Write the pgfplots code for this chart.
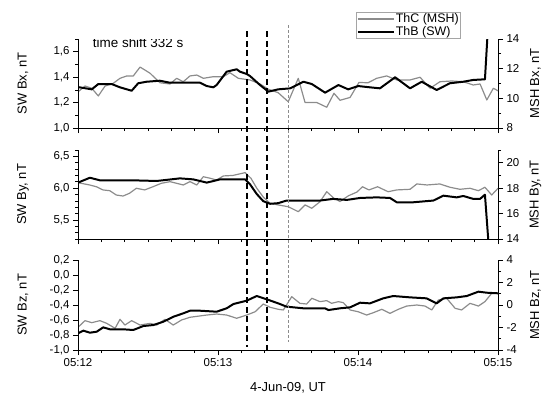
\documentclass[border=0pt]{standalone}
\usepackage{pgfplots}
\pgfplotsset{compat=1.18}
\usepackage{fontspec}
\setmainfont{Liberation Sans}

\definecolor{msh}{RGB}{140,140,140}
\definecolor{legframe}{RGB}{165,165,165}
\newcommand\ticksize{\fontsize{11.5}{13}\selectfont}
\newcommand\labsize{\fontsize{13}{15}\selectfont}
\newcommand\annsize{\fontsize{13.5}{15}\selectfont}
\newcommand\legsize{\fontsize{12.5}{13}\selectfont}

\pgfplotsset{
  panel/.style={
    scale only axis, width=420bp,
    xmin=0, xmax=180,
    xtick={0,60,120,180},
    minor xtick={10,20,30,40,50,70,80,90,100,110,130,140,150,160,170},
    tick align=outside,
    major tick length=5bp, minor tick length=3bp,
    every tick/.style={black, line width=0.7pt},
    axis line style={black, line width=0.8pt},
    tick label style={font=\ticksize},
    /pgf/number format/assume math mode=true,
    label style={font=\labsize},
  },
  leftpanel/.style={panel,
    axis y line*=left, axis x line*=bottom,
    yticklabel style={/pgf/number format/.cd, fixed, fixed zerofill, precision=1, use comma},
    ylabel style={at={(axis description cs:-0.131,0.5)}, anchor=center},
  },
  rightpanel/.style={panel,
    axis y line*=right, axis x line=none,
    ylabel style={at={(axis description cs:1.089,0.5)}, anchor=center},
  },
  swline/.style={black, line width=2pt, line join=round},
  mshline/.style={msh, line width=1.2pt, line join=round},
}

\begin{document}
\begin{tikzpicture}[x=1bp,y=1bp]
\useasboundingbox (0,0) rectangle (544,-396);

% ---------------- Bx ----------------
\begin{axis}[rightpanel, at={(78bp,-128bp)}, anchor=south west, height=89bp,
  ymin=8, ymax=14, ytick={8,10,12,14}, minor ytick={9,11,13},
  ylabel={MSH Bx, nT}]
\addplot[mshline] coordinates {
(0.1,10.45) (3.0,10.83) (5.9,10.68) (8.7,10.16) (11.6,10.83) (15.1,11.01)
(18.0,11.35) (20.9,11.51) (23.7,11.51) (26.6,12.11) (30.9,11.69) (35.1,11.05)
(39.4,10.97) (42.3,11.35) (45.1,11.12) (48.0,11.51) (50.9,11.57) (53.7,11.35)
(58.0,11.46) (62.3,11.46) (65.1,11.73) (68.7,11.35) (73.7,11.24) (78.0,10.97)
(81.6,10.61) (85.8,10.38) (90.1,9.77) (94.4,11.35) (97.3,9.72) (102.3,9.72)
(106.6,9.40) (109.7,10.34) (112.3,9.87) (116.6,10.06) (120.4,11.07) (124.3,11.05)
(128.0,11.35) (132.3,11.51) (136.6,11.24) (142.3,11.24) (146.6,11.42) (150.9,10.68)
(155.1,11.12) (160.2,11.17) (165.1,11.12) (169.4,10.90) (172.3,10.97) (175.2,9.89)
(178.0,10.68) (180.0,10.51)};
\end{axis}
\begin{axis}[leftpanel, at={(78bp,-128bp)}, anchor=south west, height=89bp,
  ymin=1.0, ymax=1.7, ytick={1.0,1.2,1.4,1.6}, minor ytick={1.1,1.3,1.5,1.7},
  xticklabels={},
  ylabel={SW Bx, nT},
  legend style={at={(axis description cs:0.662,1.303)}, anchor=north west,
    draw=legframe, line width=0.6pt, inner sep=0.5bp, font=\legsize,
    row sep=0bp, legend cell align=left,
    nodes={inner sep=1bp}},
  legend image code/.code={\draw[#1] (0bp,0bp) -- (36bp,0bp);}]
\addlegendimage{mshline}
\addlegendentry{ThC (MSH)}
\addplot[swline] coordinates {
(0,1.322) (5.9,1.304) (8.7,1.346) (14.4,1.346) (18.0,1.320) (23.0,1.293)
(25.8,1.352) (29.4,1.364) (35.1,1.372) (39.4,1.356) (45.1,1.356) (52.3,1.356)
(55.2,1.330) (58.0,1.320) (59.4,1.338) (63.7,1.443) (68.0,1.462) (69.4,1.443)
(72.3,1.425) (73.7,1.409) (78.0,1.338) (81.6,1.286) (85.8,1.304) (90.9,1.312)
(96.6,1.364) (100.2,1.346) (105.9,1.278) (111.6,1.338) (115.8,1.304) (120.1,1.330)
(125.1,1.320) (129.4,1.312) (135.9,1.399) (142.3,1.312) (147.3,1.364) (153.7,1.299)
(159.4,1.352) (165.1,1.364) (169.4,1.378) (174.4,1.383) (175.4,1.700)};
\addlegendentry{ThB (SW)}
\node[anchor=west, font=\annsize, inner sep=0pt] at (axis description cs:0.035,0.958) {time shift 332 s};
\end{axis}

% ---------------- By ----------------
\begin{axis}[rightpanel, at={(78bp,-239bp)}, anchor=south west, height=89bp,
  ymin=14, ymax=21, ytick={14,16,18,20}, minor ytick={15,17,19,21},
  ylabel={MSH By, nT}]
\addplot[mshline] coordinates {
(0,18.43) (5.0,18.25) (7.9,18.11) (10.7,17.86) (13.6,17.80) (16.4,17.46)
(19.3,17.38) (22.1,17.60) (25.0,17.99) (28.6,17.86) (32.1,18.11) (35.7,18.38)
(39.4,18.51) (42.3,18.38) (45.1,18.25) (48.0,18.51) (50.9,18.25) (53.7,18.90)
(56.6,18.78) (59.4,18.64) (62.3,18.96) (66.4,19.00) (71.6,19.22) (74.1,18.78)
(76.6,18.00) (79.4,17.30) (82.3,16.81) (85.8,16.68) (90.1,16.54) (94.4,16.15)
(97.3,16.68) (100.2,16.42) (103.7,16.93) (106.6,17.72) (109.7,17.20) (112.3,16.95)
(115.9,17.40) (119.6,17.70) (121.9,18.11) (124.7,17.86) (128.4,18.11) (132.9,17.72)
(136.6,17.86) (142.3,17.91) (145.2,18.33) (149.6,18.25) (155.1,18.33) (159.4,18.07)
(163.7,17.91) (168.0,17.99) (171.6,17.80) (174.4,18.07) (177.3,17.46) (180.0,17.99)};
\end{axis}
\begin{axis}[leftpanel, at={(78bp,-239bp)}, anchor=south west, height=89bp,
  ymin=5.2, ymax=6.6, ytick={5.5,6.0,6.5},
  minor ytick={5.2,5.3,5.4,5.6,5.7,5.8,5.9,6.1,6.2,6.3,6.4,6.6},
  xticklabels={},
  ylabel={SW By, nT}]
\addplot[swline] coordinates {
(0,6.087) (5.1,6.164) (9.4,6.123) (23.7,6.123) (33.7,6.113) (43.7,6.154)
(49.4,6.138) (55.2,6.087) (60.9,6.138) (71.6,6.138) (73.7,6.062) (76.6,5.908)
(79.4,5.795) (82.3,5.754) (85.8,5.764) (89.4,5.805) (103.7,5.805) (109.3,5.831)
(115.2,5.815) (120.9,5.846) (128.0,5.855) (133.7,5.846) (136.6,5.778) (143.7,5.778)
(152.3,5.805) (156.6,5.882) (162.3,5.855) (165.1,5.877) (169.4,5.831) (172.3,5.831)
(174.4,5.897) (175.8,5.200)};
\end{axis}

% ---------------- Bz ----------------
\begin{axis}[rightpanel, at={(78bp,-350bp)}, anchor=south west, height=90bp,
  ymin=-4, ymax=4, ytick={-4,-2,0,2,4}, minor ytick={-3,-1,1,3},
  ylabel={MSH Bz, nT}]
\addplot[mshline] coordinates {
(0,-1.98) (3.0,-1.39) (5.9,-1.57) (9.4,-1.39) (12.3,-1.63) (15.9,-2.07)
(18.0,-1.27) (20.1,-1.78) (23.0,-1.39) (26.6,-1.78) (30.9,-1.63) (33.7,-1.78)
(37.3,-1.27) (40.8,-1.78) (44.4,-1.33) (48.0,-1.09) (55.2,-0.89) (59.4,-0.80)
(63.7,-0.89) (68.0,-1.18) (72.3,-0.89) (75.9,-0.60) (79.4,0.09) (82.3,-0.20)
(85.8,-0.38) (88.0,-0.44) (91.6,0.74) (95.1,0.15) (98.0,0.09) (100.2,0.60)
(103.7,0.30) (106.6,0.39) (108.7,0.15) (111.6,0.30) (113.7,0.21) (116.6,-0.44)
(120.1,-0.60) (123.7,-0.89) (126.6,-0.68) (130.2,-0.38) (133.7,-0.74) (137.3,-0.38)
(140.9,-0.09) (145.2,0.00) (148.7,-0.09) (151.6,-0.44) (154.4,0.44) (158.0,0.60)
(161.6,-0.29) (164.4,-0.44) (168.0,0.15) (171.6,-0.09) (174.4,0.30) (177.3,1.04)
(180.0,1.04)};
\end{axis}
\begin{axis}[leftpanel, at={(78bp,-350bp)}, anchor=south west, height=90bp,
  ymin=-1.0, ymax=0.2, ytick={-1.0,-0.8,-0.6,-0.4,-0.2,0.0,0.2},
  xticklabels={05:12,05:13,05:14,05:15},
  ylabel={SW Bz, nT},
  xlabel={4-Jun-09, UT},
  xlabel style={at={(axis description cs:0.5,-0.42)}, anchor=center}]
\addplot[swline] coordinates {
(0,-0.777) (2.3,-0.742) (5.1,-0.769) (8.0,-0.756) (10.8,-0.698) (13.7,-0.724)
(19.4,-0.724) (23.7,-0.733) (28.0,-0.680) (32.3,-0.667) (36.6,-0.622) (40.9,-0.556)
(45.1,-0.511) (48.0,-0.476) (52.3,-0.476) (59.4,-0.489) (63.7,-0.444) (66.6,-0.387)
(72.3,-0.342) (76.6,-0.280) (80.9,-0.324) (85.8,-0.378) (89.4,-0.422) (96.6,-0.444)
(105.9,-0.444) (107.3,-0.467) (112.3,-0.444) (116.6,-0.431) (120.9,-0.369) (125.1,-0.378)
(130.8,-0.311) (135.1,-0.280) (142.3,-0.298) (149.4,-0.311) (153.7,-0.378) (156.6,-0.311)
(162.3,-0.298) (166.6,-0.280) (171.6,-0.222) (175.2,-0.236) (180.0,-0.244)};
% end points of the event markers, in this panel's units
\coordinate (m1top) at (axis cs:72.3,3.25);
\coordinate (m1bot) at (axis cs:72.3,-0.96);
\coordinate (m2top) at (axis cs:80.9,3.25);
\coordinate (m2bot) at (axis cs:80.9,-1.03);
\coordinate (m3top) at (axis cs:90.1,3.33);
\coordinate (m3bot) at (axis cs:90.1,-0.89);
\end{axis}

% event markers across all three panels
\draw[black, line width=1.6pt, dash pattern=on 6bp off 3.5bp] (m1top) -- (m1bot);
\draw[black, line width=1.6pt, dash pattern=on 6bp off 3.5bp] (m2top) -- (m2bot);
\draw[msh, line width=0.8pt, dash pattern=on 3bp off 2bp] (m3top) -- (m3bot);
\end{tikzpicture}
\end{document}
